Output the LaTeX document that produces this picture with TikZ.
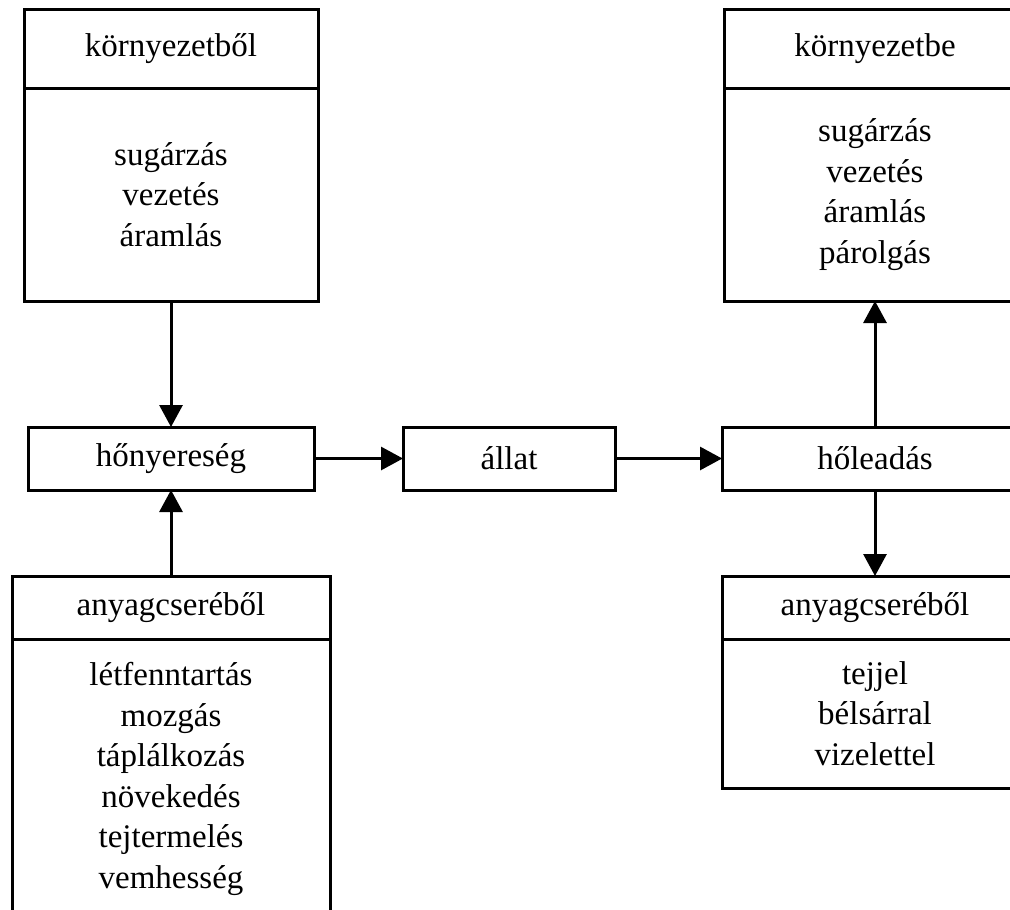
\documentclass[tikz,border=0pt]{standalone}
\usepackage{fontspec}
\setmainfont{Liberation Serif}
\usetikzlibrary{positioning,arrows.meta}

\begin{document}
\begin{tikzpicture}[x=1pt, y=-1pt,
    box/.style={draw, line width=3pt, outer sep=0pt, align=center,
        font=\fontsize{33}{40.5}\selectfont},
    arr/.style={line width=3pt, -{Triangle[width=23pt,length=22pt]}}]
    \clip (0,0) rectangle (1010,910); % page size

    % upper boxes
    \node[box, minimum width=294, minimum height=79] (envin) at (171,48.5) {környezetből};
    \node[box, minimum width=294, minimum height=213, below=0pt of envin] (envinlist) {sugárzás\\vezetés\\áramlás};
    \node[box, minimum width=302, minimum height=79] (envout) at (875,48.5) {környezetbe};
    \node[box, minimum width=302, minimum height=213, below=0pt of envout] (envoutlist) {sugárzás\\vezetés\\áramlás\\párolgás};

    % middle row
    \node[box, minimum width=286, minimum height=63] (gain) at (171,458.5) {hőnyereség};
    \node[box, minimum width=212, minimum height=63] (animal) at (509,458.5) {állat};
    \node[box, minimum width=306, minimum height=63] (loss) at (875,458.5) {hőleadás};

    % lower boxes
    \node[box, minimum width=318, minimum height=63] (metin) at (171,607.5) {anyagcseréből};
    \node[box, minimum width=318, minimum height=280, below=0pt of metin] (metinlist) {létfenntartás\\mozgás\\táplálkozás\\növekedés\\tejtermelés\\vemhesség};
    \node[box, minimum width=306, minimum height=63] (metout) at (875,607.5) {anyagcseréből};
    \node[box, minimum width=306, minimum height=149, below=0pt of metout] (metoutlist) {tejjel\\bélsárral\\vizelettel};

    % arrows
    \draw[arr] (envinlist) -- (gain);
    \draw[arr] (metin) -- (gain);
    \draw[arr] (gain) -- (animal);
    \draw[arr] (animal) -- (loss);
    \draw[arr] (loss) -- (envoutlist);
    \draw[arr] (loss) -- (metout);

\end{tikzpicture}
\end{document}
